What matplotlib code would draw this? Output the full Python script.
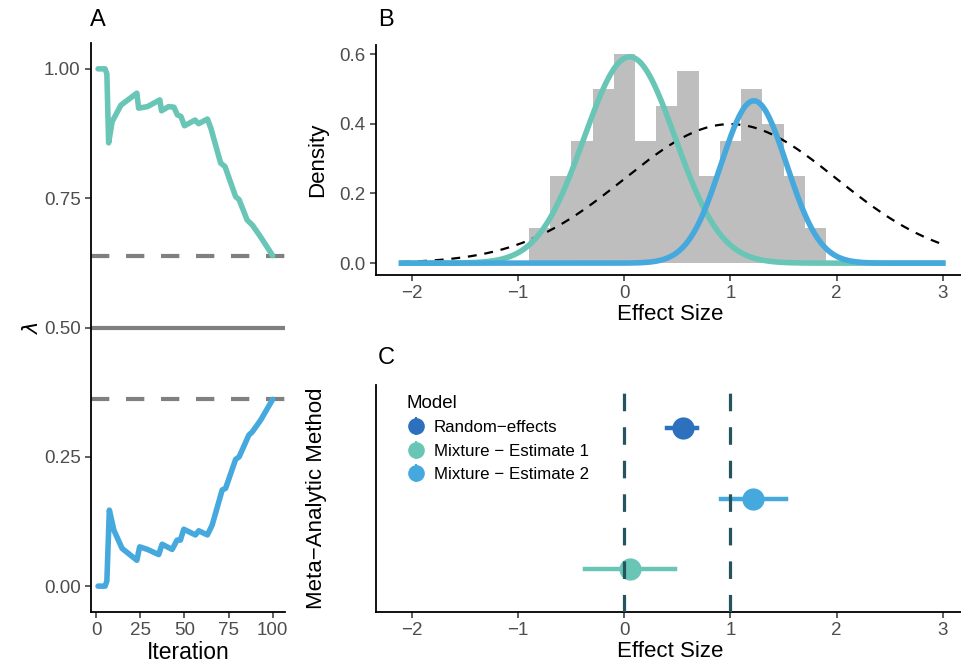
import numpy as np
import matplotlib
matplotlib.use("Agg")
import matplotlib.pyplot as plt
from matplotlib.lines import Line2D

plt.rcParams['font.family'] = ['Liberation Sans', 'DejaVu Sans']

teal = '#69C6B6'
blue = '#45A9DE'
darkblue = '#2C70BE'
vline_col = '#25535F'
tick_col = '#4D4D4D'

# panel A: lambda over iterations
iter_1 = [1, 5, 6, 7, 9, 14, 23, 24, 29, 36, 37, 41, 44, 46, 48, 50, 56, 58, 63, 65,
          70.5, 73, 79, 81, 85.5, 88.5, 93, 100]
lam_1 = [1.0, 1.0, 0.99, 0.857, 0.898, 0.930, 0.953, 0.924, 0.927, 0.940, 0.919, 0.927,
         0.926, 0.911, 0.908, 0.890, 0.901, 0.894, 0.903, 0.885,
         0.818, 0.811, 0.753, 0.747, 0.708, 0.698, 0.676, 0.639]
iter_2 = [1, 5, 6, 7.4, 10, 14.6, 23, 24.6, 29, 35.4, 37.3, 43, 45.8, 47.7, 49.6, 56.2,
          58.1, 63, 65.7, 71.4, 73.3, 79, 81, 86.5, 88.4, 93.2, 100]
lam_2 = [0.0, 0.0, 0.01, 0.147, 0.108, 0.073, 0.050, 0.076, 0.071, 0.061, 0.081, 0.071,
         0.089, 0.089, 0.110, 0.099, 0.107, 0.099, 0.118, 0.186, 0.189, 0.245,
         0.250, 0.292, 0.298, 0.321, 0.361]
lam_final = [0.638, 0.362]

# panel B: histogram of effect sizes (density per bin)
bin_edges = [-0.9, -0.7, -0.5, -0.3, -0.1, 0.1, 0.3, 0.5, 0.7, 0.9, 1.1, 1.3, 1.5, 1.7, 1.9]
bin_density = [0.10, 0.25, 0.35, 0.50, 0.60, 0.35, 0.45, 0.55, 0.25, 0.35, 0.50, 0.40, 0.25, 0.10]
# fitted normal components: (mean, sd, weight)
comp_1 = (0.05, 0.43, 0.638)
comp_2 = (1.22, 0.31, 0.362)
comp_re = (1.0, 1.0, 1.0)
x_range = (-2.1, 3.0)

# panel C: estimates with intervals
models = ['Random\u2212effects', 'Mixture \u2212 Estimate 1', 'Mixture \u2212 Estimate 2']
est = [0.55, 0.05, 1.21]
lo = [0.40, -0.37, 0.91]
hi = [0.68, 0.48, 1.52]
ypos = [3, 1, 2]
colors = [darkblue, teal, blue]
true_vals = [0, 1]


def style(ax):
    for s in ['top', 'right']:
        ax.spines[s].set_visible(False)
    for s in ['left', 'bottom']:
        ax.spines[s].set_linewidth(1.3)
    ax.tick_params(labelsize=13.5, colors='#333333', labelcolor=tick_col, length=4, width=1.1)


def npdf(x, m, s, w):
    return w * np.exp(-0.5 * ((x - m) / s) ** 2) / (s * np.sqrt(2 * np.pi))


fig = plt.figure(figsize=(9.62, 6.68), dpi=100)

# ---- A
axA = fig.add_axes([91/962, 56/668, 194/962, 569/668])
axA.axhline(0.5, color='#808080', lw=3, zorder=1)
for v in lam_final:
    axA.axhline(v, color='#808080', lw=3, dashes=(4.4, 4.0), zorder=1)
axA.plot(iter_1, lam_1, color=teal, lw=4, solid_joinstyle='round', solid_capstyle='round', zorder=2)
axA.plot(iter_2, lam_2, color=blue, lw=4, solid_joinstyle='round', solid_capstyle='round', zorder=2)
axA.set_xlim(-3, 107)
axA.set_ylim(-0.05, 1.05)
axA.set_xticks([0, 25, 50, 75, 100])
axA.set_yticks([0, 0.25, 0.5, 0.75, 1.0])
axA.set_yticklabels(['0.00', '0.25', '0.50', '0.75', '1.00'])
axA.set_xlabel('Iteration', fontsize=16.5, labelpad=1)
axA.set_ylabel(r'$\lambda$', fontsize=15, labelpad=1)
style(axA)
fig.text(98/962, 1 - 20/668, 'A', fontsize=17, ha='center', va='center')

# ---- B
axB = fig.add_axes([376/962, 393/668, 588/962, 230/668])
axB.bar(bin_edges[:-1], bin_density, width=np.diff(bin_edges), align='edge',
        color='#BEBEBE', edgecolor='none', zorder=1)
xs = np.linspace(x_range[0], x_range[1], 400)
axB.plot(xs, npdf(xs, *comp_re), color='black', lw=1.6, dashes=(4, 3.5), zorder=2)
axB.plot(xs, npdf(xs, *comp_1), color=teal, lw=4, zorder=3)
axB.plot(xs, npdf(xs, *comp_2), color=blue, lw=4, zorder=4)
axB.set_xlim(-2.34, 3.2)
axB.set_ylim(-0.034, 0.626)
axB.set_xticks([-2, -1, 0, 1, 2, 3])
axB.set_yticks([0, 0.2, 0.4, 0.6])
axB.set_yticklabels(['0.0', '0.2', '0.4', '0.6'])
axB.set_xlabel('Effect Size', fontsize=16, labelpad=1)
axB.set_ylabel('Density', fontsize=16, labelpad=8)
style(axB)
fig.text(386/962, 1 - 20/668, 'B', fontsize=17, ha='center', va='center')

# ---- C
axC = fig.add_axes([376/962, 56/668, 588/962, 227/668])
for i in range(len(models)):
    axC.plot([lo[i], hi[i]], [ypos[i], ypos[i]], color=colors[i], lw=3.2, zorder=2)
    axC.plot(est[i], ypos[i], 'o', color=colors[i], ms=16, mec='none', zorder=3)
for v in true_vals:
    axC.axvline(v, color=vline_col, lw=2.3, dashes=(5.5, 5), zorder=4)
axC.set_xlim(-2.34, 3.2)
axC.set_ylim(0.4, 3.6)
axC.set_xticks([-2, -1, 0, 1, 2, 3])
axC.set_yticks([])
axC.set_xlabel('Effect Size', fontsize=16, labelpad=1)
axC.set_ylabel('Meta\u2212Analytic Method', fontsize=16, labelpad=35)
style(axC)
fig.text(386/962, 1 - 358/668, 'C', fontsize=17, ha='center', va='center')

handles = []
for c in colors:
    h1 = Line2D([], [], ls='none', marker='|', ms=13, mew=1.5, color=c)
    h2 = Line2D([], [], ls='none', marker='o', ms=12, mec='none', color=c)
    handles.append((h1, h2))
leg = axC.legend(handles, models, title='Model', loc='upper left', bbox_to_anchor=(0.026, 1.025),
                 frameon=False, fontsize=12.2, title_fontsize=13.5, alignment='left',
                 handlelength=1.1, handletextpad=0.5, labelspacing=0.5)

plt.savefig('out.png', dpi=100)
